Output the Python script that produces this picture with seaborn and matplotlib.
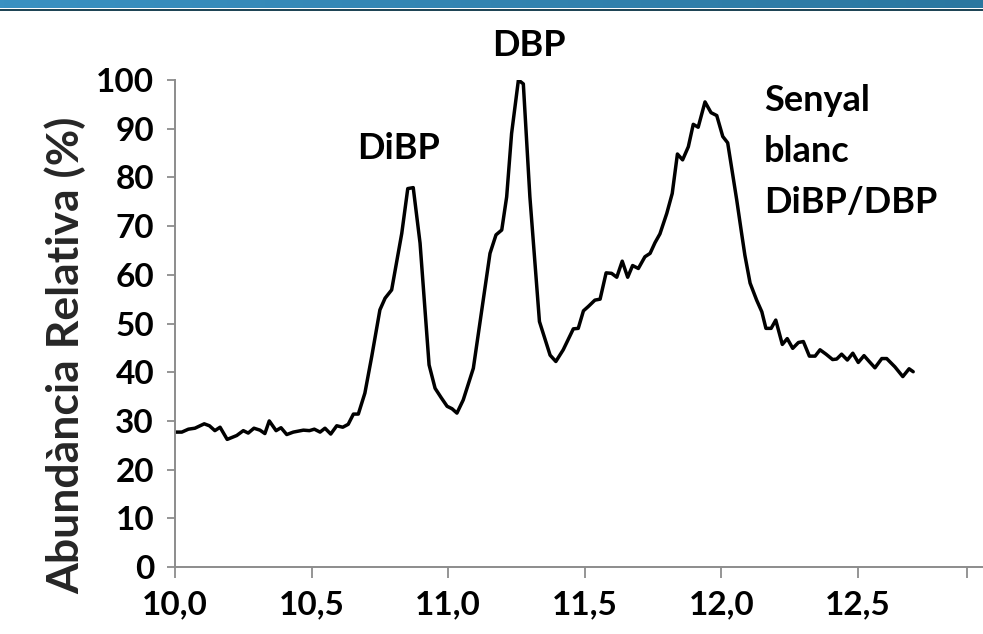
import numpy as np
import pandas as pd
import matplotlib
matplotlib.use("Agg")
import matplotlib.pyplot as plt
import seaborn as sns
from matplotlib.colors import LinearSegmentedColormap

# ---- data (retention time in minutes, relative abundance in %) ----
temps = [10.000, 10.025, 10.049, 10.073, 10.107, 10.126, 10.146, 10.165, 10.191, 10.226,
         10.250, 10.268, 10.289, 10.311, 10.329, 10.345, 10.370, 10.388, 10.409, 10.433,
         10.470, 10.492, 10.510, 10.531, 10.549, 10.570, 10.592, 10.614, 10.634, 10.653,
         10.671, 10.695, 10.720, 10.750, 10.769, 10.793, 10.830, 10.852, 10.872, 10.897,
         10.930, 10.952, 10.974, 10.996, 11.014, 11.032, 11.055, 11.092, 11.123, 11.153,
         11.175, 11.196, 11.214, 11.232, 11.257, 11.275, 11.299, 11.334, 11.373, 11.394,
         11.421, 11.458, 11.476, 11.495, 11.513, 11.537, 11.556, 11.578, 11.598, 11.617,
         11.637, 11.657, 11.675, 11.696, 11.720, 11.739, 11.757, 11.775, 11.800, 11.820,
         11.839, 11.858, 11.879, 11.897, 11.915, 11.940, 11.962, 11.983, 12.005, 12.023,
         12.056, 12.074, 12.086, 12.105, 12.129, 12.148, 12.163, 12.182, 12.199, 12.223,
         12.241, 12.261, 12.282, 12.300, 12.322, 12.343, 12.361, 12.383, 12.407, 12.422,
         12.440, 12.461, 12.481, 12.501, 12.522, 12.541, 12.562, 12.587, 12.605, 12.635,
         12.664, 12.687, 12.702]
abundancia = [27.7, 27.7, 28.3, 28.5, 29.4, 29.0, 28.0, 28.7, 26.2, 27.0,
              28.0, 27.5, 28.5, 28.1, 27.4, 30.0, 28.0, 28.6, 27.2, 27.7,
              28.1, 28.0, 28.3, 27.7, 28.5, 27.3, 29.0, 28.7, 29.3, 31.4,
              31.4, 35.7, 43.2, 52.8, 55.2, 56.9, 68.5, 77.7, 77.9, 66.5,
              41.5, 36.7, 34.8, 33.0, 32.5, 31.6, 34.3, 40.8, 52.8, 64.4,
              68.2, 69.2, 76.0, 89.0, 100.0, 99.2, 76.0, 50.4, 43.5, 42.2,
              44.6, 48.9, 49.0, 52.6, 53.5, 54.8, 55.0, 60.4, 60.3, 59.5,
              62.8, 59.5, 61.9, 61.3, 63.7, 64.4, 66.6, 68.4, 72.6, 76.7,
              84.8, 83.6, 86.3, 90.9, 90.3, 95.5, 93.3, 92.7, 88.4, 87.1,
              75.4, 68.5, 64.0, 58.3, 54.8, 52.4, 49.0, 49.0, 50.7, 45.7,
              46.9, 44.9, 46.1, 46.3, 43.3, 43.3, 44.6, 43.7, 42.6, 42.7,
              43.7, 42.5, 43.9, 42.0, 43.4, 42.2, 40.9, 42.8, 42.8, 41.1,
              39.1, 40.7, 40.1]

x_ticks = [10.0, 10.5, 11.0, 11.5, 12.0, 12.5, 12.9]
x_tick_labels = ["10,0", "10,5", "11,0", "11,5", "12,0", "12,5", ""]
y_ticks = [0, 10, 20, 30, 40, 50, 60, 70, 80, 90, 100]

etiquetes = ["DiBP", "DBP", "Senyal\nblanc\nDiBP/DBP"]
etiq_x = [10.82, 11.295, 12.155]
etiq_y = [86.0, 107.0, 99.2]

# ---- figure ----
sns.set_theme(style="white")
plt.rcParams['font.family'] = ['Lato', 'DejaVu Sans']
plt.rcParams['font.weight'] = 'bold'

W, H = 983, 634
fig = plt.figure(figsize=(W / 100, H / 100), dpi=100)
fig.patch.set_facecolor("white")

# top banner (gradient + dark line)
ban = fig.add_axes([0, 1 - 8.5 / H, 1, 8.5 / H])
grad = np.linspace(0, 1, 256)[None, :]
cmap = LinearSegmentedColormap.from_list("b", ["#3a91c2", "#2b77a0"])
ban.imshow(grad, aspect="auto", cmap=cmap, extent=[0, 1, 0, 1])
ban.axis("off")
line_ax = fig.add_axes([0, 1 - 11 / H, 1, 2.5 / H])
line_ax.set_facecolor("#1f4556")
line_ax.set_xticks([]); line_ax.set_yticks([])
for s in line_ax.spines.values():
    s.set_visible(False)

left, right = 175 / W, 1.0
bottom, top = 1 - 567 / H, 1 - 80 / H
ax = fig.add_axes([left, bottom, right - left, top - bottom])
ax.set_facecolor("white")

df = pd.DataFrame({"temps": temps, "abundancia": abundancia})
sns.lineplot(data=df, x="temps", y="abundancia", color="black", linewidth=2.5,
             ax=ax, sort=False)

ax.set_xlim(10.0, 10.0 + (W - 175) / 273.2)
ax.set_ylim(0, 100)
ax.set_xticks(x_ticks)
ax.set_xticklabels(x_tick_labels)
ax.set_yticks(y_ticks)
ax.set_xlabel("")
ax.set_ylabel("Abundància Relativa (%)", fontsize=32, fontweight="bold")
ax.yaxis.set_label_coords(-0.11, 0.435)

for sp in ["top", "right"]:
    ax.spines[sp].set_visible(False)
for sp in ["left", "bottom"]:
    ax.spines[sp].set_color("#8c8c8c")
    ax.spines[sp].set_linewidth(1.4)
    ax.spines[sp].set_clip_on(False)

ax.tick_params(axis="x", direction="out", length=8, width=1.3, color="#8c8c8c",
               labelsize=24, pad=9, bottom=True)
ax.tick_params(axis="y", direction="out", length=6, width=1.3, color="#8c8c8c",
               labelsize=24, pad=9, left=True)
for lab in ax.get_xticklabels() + ax.get_yticklabels():
    lab.set_fontweight("bold")
    lab.set_color("black")

ax.text(etiq_x[0], etiq_y[0], etiquetes[0], ha="center", va="center",
        fontsize=26, fontweight="bold", color="black", clip_on=False)
ax.text(etiq_x[1], etiq_y[1], etiquetes[1], ha="center", va="center",
        fontsize=26, fontweight="bold", color="black", clip_on=False)
ax.text(etiq_x[2], etiq_y[2], etiquetes[2], ha="left", va="top",
        fontsize=26, fontweight="bold", color="black", linespacing=1.67,
        clip_on=False)

fig.savefig("out.png", dpi=100, facecolor="white")
